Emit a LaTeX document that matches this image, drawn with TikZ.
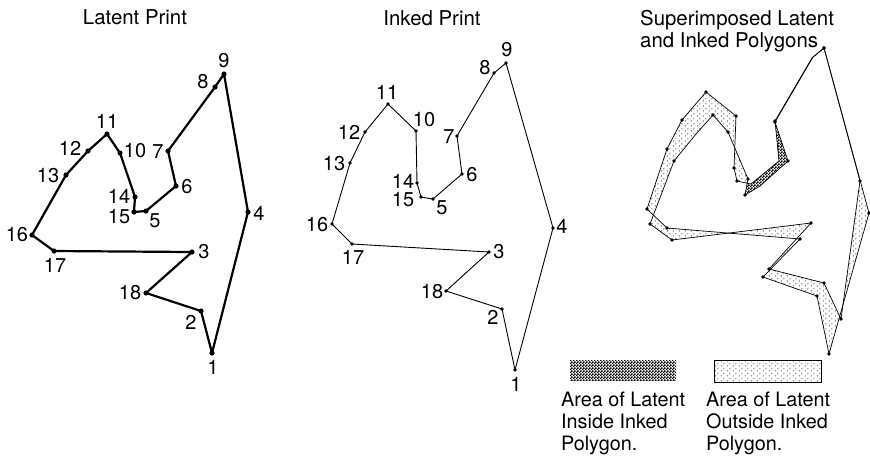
\documentclass[tikz,border=0pt]{standalone}
\usepackage{fontspec}
\setmainfont{TeX Gyre Heros}
\usetikzlibrary{patterns}
\pgfdeclarepatternformonly{sparsedots}{\pgfpointorigin}{\pgfpoint{6pt}{5pt}}{\pgfpoint{6pt}{5pt}}{%
  \pgfpathcircle{\pgfpoint{1.5pt}{1.25pt}}{0.6pt}%
  \pgfpathcircle{\pgfpoint{4.5pt}{3.75pt}}{0.6pt}%
  \pgfusepath{fill}}
\pgfdeclarepatternformonly{darkcheck}{\pgfpointorigin}{\pgfpoint{3pt}{3pt}}{\pgfpoint{3pt}{3pt}}{%
  \pgfpathrectangle{\pgfpointorigin}{\pgfpoint{1.9pt}{1.9pt}}%
  \pgfpathrectangle{\pgfpoint{1.5pt}{1.5pt}}{\pgfpoint{1.9pt}{1.9pt}}%
  \pgfusepath{fill}}
\tikzset{
  latline/.style={line width=2.2pt, line join=round, line cap=round},
  inkline/.style={line width=0.9pt, line join=round},
  supline/.style={line width=0.7pt, line join=round},
  lab/.style={font=\fontsize{20}{23}\selectfont, inner sep=0pt},
  ttl/.style={font=\fontsize{20.4}{22}\selectfont, inner sep=0pt},
  leg/.style={font=\fontsize{19.8}{22}\selectfont, inner sep=0pt, align=left, anchor=north west},
}
\begin{document}
\begin{tikzpicture}[x=1pt,y=-1pt]
\useasboundingbox (0,0) rectangle (870,456);
\fill[white] (0,0) rectangle (870,456);

% ---------- Latent print ----------
\foreach \n/\x/\y in {1/212/353,2/201/311,3/192/252,4/248/212,5/146/211,6/176/186,
  7/168/151,8/215/87,9/224/74,10/120/153,11/107/134,12/88/151,13/66/175,
  14/135/197,15/134/212,16/32/235,17/54/251,18/146/293}
  \coordinate (L\n) at (\x,\y);
\draw[latline] (L1)--(L2)--(L18)--(L3)--(L17)--(L16)--(L13)--(L12)--(L11)--(L10)--(L14)--(L15)--(L5)--(L6)--(L7)--(L8)--(L9)--(L4)--cycle;
\foreach \n in {1,...,18} \fill (L\n) circle[radius=2.6];
\foreach \n/\x/\y in {1/213/367,2/191/322,3/204/252,4/259/213,5/155/221,6/187/187,
  7/158/152,8/203/82,9/224/61,10/135/151,11/107/121,12/70/148,13/48/176,
  14/119/196,15/119/217,16/17/235,17/55/265,18/130/293}
  \node[lab] (tL\n) at (\x,\y) {\n};
\node[ttl, anchor=base] (titleL) at (135,24) {Latent Print};

% ---------- Inked print ----------
\foreach \n/\x/\y in {1/515/370,2/502/309,3/489/252,4/553/228,5/433/199,6/462/174,
  7/457/136,8/494/73,9/506/63,10/416/131,11/388/104,12/365/132,13/350/163,
  14/417/183,15/421/197,16/332/224,17/352/244,18/446/291}
  \coordinate (I\n) at (\x,\y);
\draw[inkline] (I1)--(I2)--(I18)--(I3)--(I17)--(I16)--(I13)--(I12)--(I11)--(I10)--(I14)--(I15)--(I5)--(I6)--(I7)--(I8)--(I9)--(I4)--cycle;
\foreach \n in {1,...,18} \fill (I\n) circle[radius=1.9];
\foreach \n/\x/\y in {1/516/384,2/493/317,3/499/252,4/562/226,5/442/208,6/472/175,
  7/449/137,8/485/68,9/507/50,10/424/120,11/387/92,12/349/132,13/334/164,
  14/403/181,15/403/200,16/317/225,17/353/257,18/432/292}
  \node[lab] (tI\n) at (\x,\y) {\n};
\node[ttl, anchor=base] (titleI) at (432,25) {Inked Print};

% ---------- Superimposed ----------
\foreach \n/\x/\y in {1/841/319,2/824/283,3/811/223,4/860/181,5/760/186,6/788/161,
  7/775/122,8/813/57,9/824/48,10/728/132,11/713/115,12/696/134,13/674/161,
  14/748/179,15/745/195,16/650/224,17/672/240,18/769/269}
  \coordinate (R\n) at (\x,\y);
\foreach \n/\x/\y in {1/829/354,2/817/296,3/800/239,4/869/213,5/751/184,6/779/161,
  7/775/121,8/812/58,9/824/48,10/736/116,11/706/92,12/682/120,13/667/149,
  14/734/168,15/737/181,16/647/209,17/667/228,18/763/277}
  \coordinate (S\n) at (\x,\y);
\coordinate (X) at (747.2,183.2);
\fill[pattern=sparsedots, even odd rule]
  (R1)--(R2)--(R18)--(R3)--(R17)--(R16)--(R13)--(R12)--(R11)--(R10)--(R14)--(R15)--(R5)--(R6)--(R7)--(R8)--(R9)--(R4)--cycle
  (S1)--(S2)--(S18)--(S3)--(S17)--(S16)--(S13)--(S12)--(S11)--(S10)--(S14)--(S15)--(S5)--(S6)--(S7)--(S8)--(S9)--(S4)--cycle;
\fill[white] (S7)--(S6)--(S5)--(X)--(R15)--(R5)--(R6)--(R7)--cycle;
\fill[pattern=darkcheck] (S7)--(S6)--(S5)--(X)--(R15)--(R5)--(R6)--(R7)--cycle;
\draw[supline] (R1)--(R2)--(R18)--(R3)--(R17)--(R16)--(R13)--(R12)--(R11)--(R10)--(R14)--(R15)--(R5)--(R6)--(R7)--(R8)--(R9)--(R4)--cycle;
\draw[supline] (S1)--(S2)--(S18)--(S3)--(S17)--(S16)--(S13)--(S12)--(S11)--(S10)--(S14)--(S15)--(S5)--(S6)--(S7)--(S8)--(S9)--(S4)--cycle;
\foreach \n in {1,2,3,4,6,7,9,10,11,13,14,15,16,17,18} \fill (R\n) circle[radius=1.8];
\foreach \n in {1,2,3,4,7,9,10,11,12,13,14,15,16,17,18} \fill (S\n) circle[radius=1.8];
\node[ttl, align=left, anchor=north west] (titleS) at (640,10) {Superimposed Latent\\and Inked Polygons};

% ---------- Legend ----------
\node[pattern=darkcheck, minimum width=106pt, minimum height=20pt, inner sep=0pt, anchor=north west] (swIn) at (570,360) {};
\node[draw, line width=0.5pt, pattern=sparsedots, minimum width=107pt, minimum height=22pt, inner sep=0pt, anchor=north west] (swOut) at (714,360) {};
\node[leg] (legIn) at (561,392) {Area of Latent\\Inside Inked\\Polygon.};
\node[leg] (legOut) at (706,392) {Area of Latent\\Outside Inked\\Polygon.};
\end{tikzpicture}
\end{document}
